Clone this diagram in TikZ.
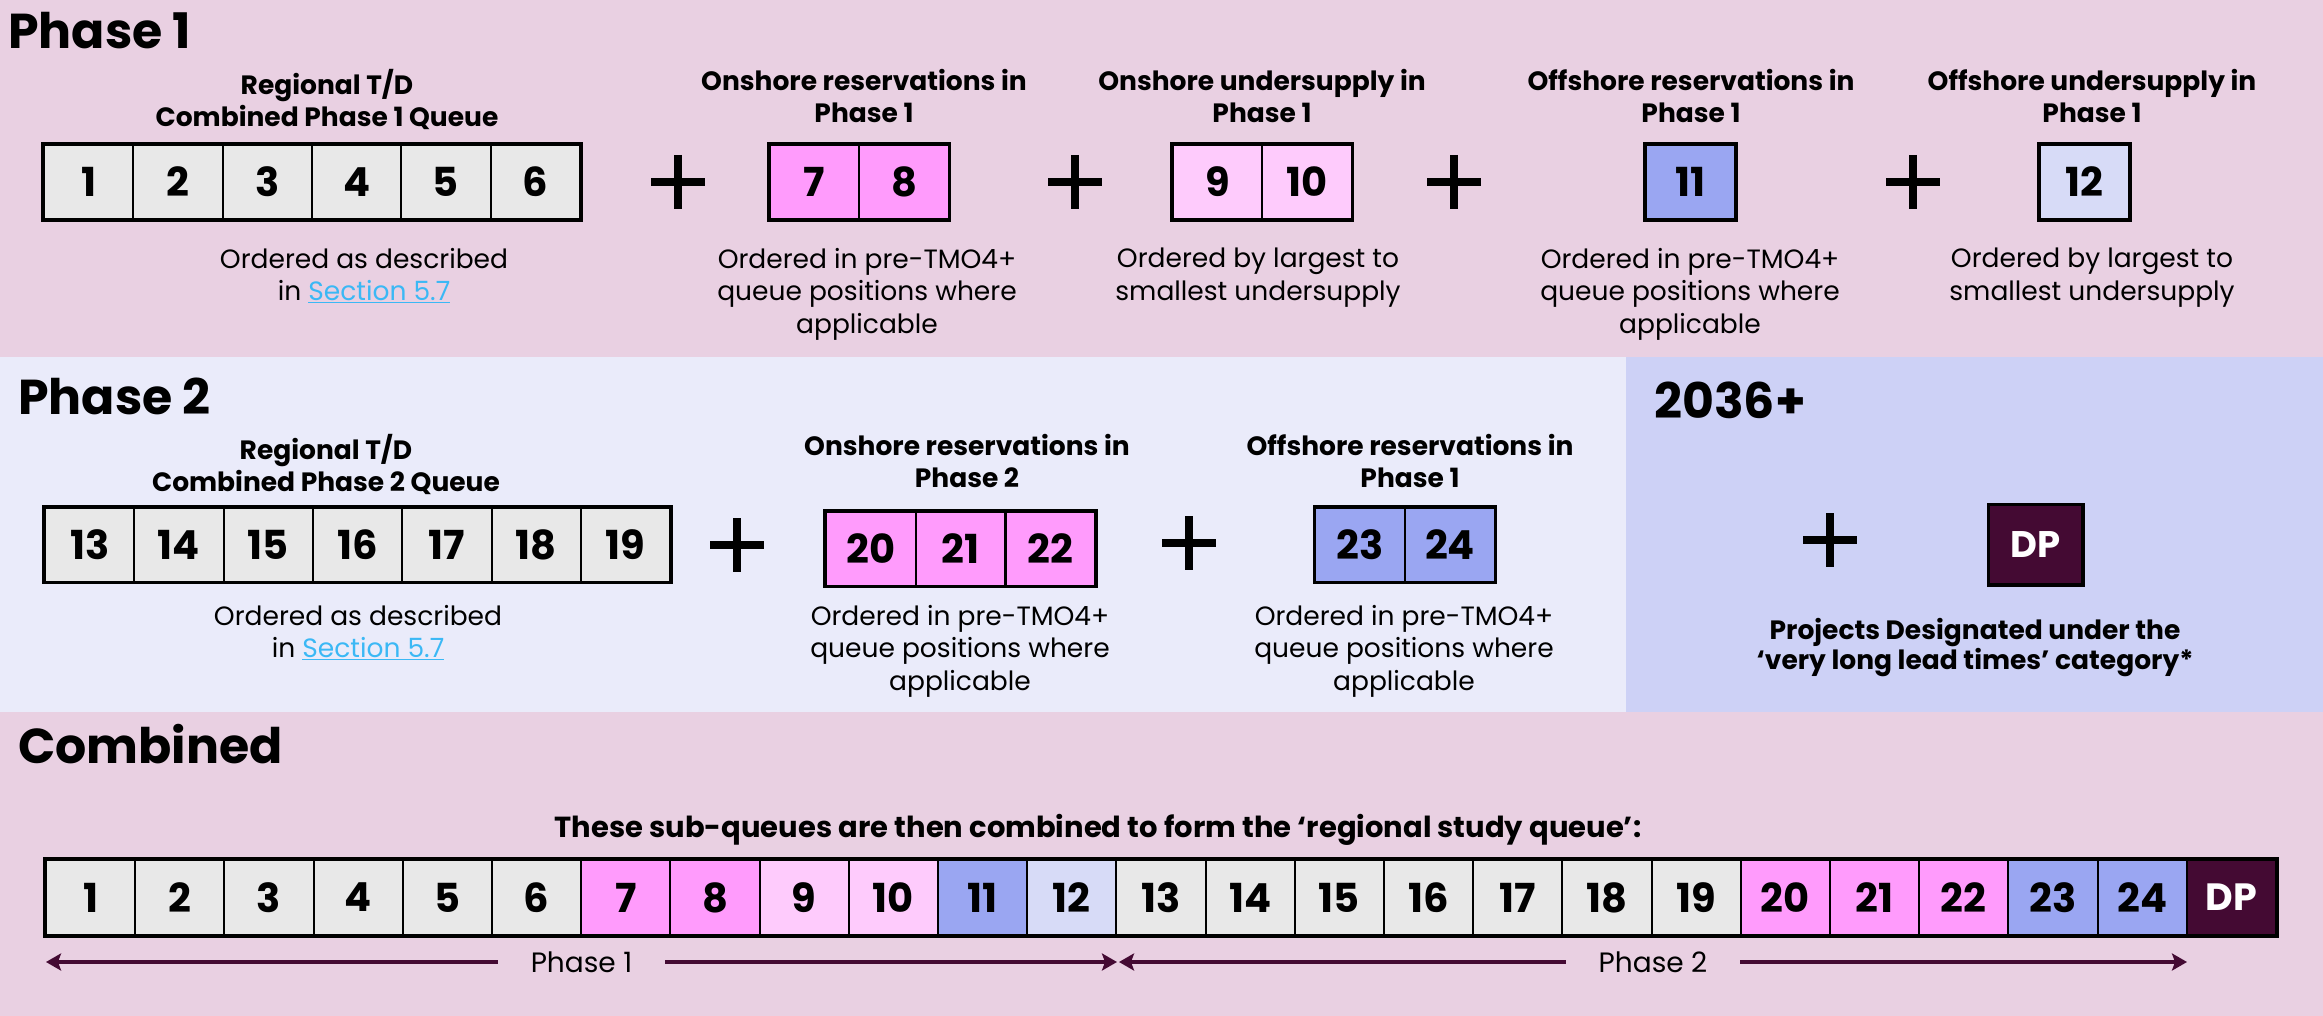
\documentclass[tikz,border=0pt]{standalone}
\usepackage{fontspec}
\setmainfont{Poppins}
\usetikzlibrary{arrows.meta}
\definecolor{bgpink}{HTML}{E9D0E2}
\definecolor{bgptwo}{HTML}{EAEBFA}
\definecolor{bgfut}{HTML}{CDD1F6}
\definecolor{cgray}{HTML}{E8E8E8}
\definecolor{cpink}{HTML}{FF9BFC}
\definecolor{clpink}{HTML}{FECBFC}
\definecolor{cblue}{HTML}{9AA6F2}
\definecolor{clblue}{HTML}{D7DBF7}
\definecolor{cdp}{HTML}{440A33}
\definecolor{clink}{HTML}{3BB8F5}
\newcommand{\lnk}[1]{{\color{clink}\underline{#1}}}
\begin{document}
\begin{tikzpicture}[x=1pt,y=-1pt,
  cell/.style={draw=black, line width=2pt, minimum width=89.3pt, minimum height=74pt, inner sep=0pt,
    font=\fontsize{40}{40}\selectfont\bfseries},
  dpcell/.style={cell, fill=cdp, text=white, font=\fontsize{37}{37}\selectfont\bfseries},
  frame/.style={draw=black, line width=3.5pt},
  head/.style={font=\fontsize{49}{49}\selectfont\bfseries, anchor=base west, inner sep=0pt},
  ttl/.style={font=\fontsize{26.5}{32.5}\selectfont\bfseries, align=center, anchor=north, inner sep=0pt},
  desc/.style={font=\fontsize{26.5}{32.5}\selectfont, align=center, anchor=north, inner sep=0pt},
  arr/.style={draw=cdp, line width=4pt, {Stealth[length=15pt,width=17pt,inset=3pt]}-{Stealth[length=15pt,width=17pt,inset=3pt]}},
  lab/.style={fill=bgpink, font=\fontsize{28}{28}\selectfont, inner xsep=33pt, inner ysep=4pt},
  plussign/.pic={\draw[line width=8pt] (-27,0) -- (27,0) (0,-27) -- (0,27);}
]
\useasboundingbox (0,0) rectangle (2323,1016);
% backgrounds
\fill[bgpink] (0,0) rectangle (2323,357);
\fill[bgptwo] (0,357) rectangle (1626,712);
\fill[bgfut] (1626,357) rectangle (2323,712);
\fill[bgpink] (0,712) rectangle (2323,1016);

% ---------------- Phase 1 ----------------
\node[head] (h1) at (8,49) {Phase 1};
\node[ttl] (t11) at (327,69) {Regional T/D\\Combined Phase 1 Queue};
\node[ttl] (t12) at (864,69) {Onshore reservations in\\Phase 1};
\node[ttl] (t13) at (1262,69) {Onshore undersupply in\\Phase 1};
\node[ttl] (t14) at (1691,69) {Offshore reservations in\\Phase 1};
\node[ttl] (t15) at (2092,69) {Offshore undersupply in\\Phase 1};

\foreach \n [count=\i] in {1,...,6}
  \node[cell, fill=cgray] (a\n) at ({44+89.3*(\i-0.5)},182) {\n};
\draw[frame] (a1.north west) rectangle (a6.south east);
\foreach \n [count=\i] in {7,8}
  \node[cell, fill=cpink] (a\n) at ({770+89.3*(\i-0.5)},182) {\n};
\draw[frame] (a7.north west) rectangle (a8.south east);
\foreach \n [count=\i] in {9,10}
  \node[cell, fill=clpink] (a\n) at ({1173+89.3*(\i-0.5)},182) {\n};
\draw[frame] (a9.north west) rectangle (a10.south east);
\node[cell, fill=cblue] (a11) at ({1646+44.65},182) {11};
\draw[frame] (a11.north west) rectangle (a11.south east);
\node[cell, fill=clblue] (a12) at ({2040+44.65},182) {12};
\draw[frame] (a12.north west) rectangle (a12.south east);

\pic at (678,182) {plussign};
\pic at (1075,182) {plussign};
\pic at (1454,182) {plussign};
\pic at (1913,182) {plussign};

\node[desc] (d11) at (364,248) {Ordered as described\\in \lnk{Section 5.7}};
\node[desc] (d12) at (867,248) {Ordered in pre-TMO4+\\queue positions where\\applicable};
\node[desc] (d13) at (1258,248) {Ordered by largest to\\smallest undersupply};
\node[desc] (d14) at (1690,248) {Ordered in pre-TMO4+\\queue positions where\\applicable};
\node[desc] (d15) at (2092,248) {Ordered by largest to\\smallest undersupply};

% ---------------- Phase 2 ----------------
\node[head] (h2) at (18,414) {Phase 2};
\node[ttl] (t21) at (326,434) {Regional T/D\\Combined Phase 2 Queue};
\node[ttl] (t22) at (967,434) {Onshore reservations in\\Phase 2};
\node[ttl] (t23) at (1410,434) {Offshore reservations in\\Phase 1};

\foreach \n [count=\i] in {13,...,19}
  \node[cell, fill=cgray] (b\n) at ({45+89.3*(\i-0.5)},544.5) {\n};
\draw[frame] (b13.north west) rectangle (b19.south east);
\foreach \n [count=\i] in {20,21,22}
  \node[cell, fill=cpink] (b\n) at ({826+89.7*(\i-0.5)},548.5) {\n};
\draw[frame] (b20.north west) rectangle (b22.south east);
\foreach \n [count=\i] in {23,24}
  \node[cell, fill=cblue] (b\n) at ({1315+90*(\i-0.5)},544.5) {\n};
\draw[frame] (b23.north west) rectangle (b24.south east);

\pic at (737,545) {plussign};
\pic at (1189,543) {plussign};

\node[desc] (d21) at (358,605) {Ordered as described\\in \lnk{Section 5.7}};
\node[desc] (d22) at (960,605) {Ordered in pre-TMO4+\\queue positions where\\applicable};
\node[desc] (d23) at (1404,605) {Ordered in pre-TMO4+\\queue positions where\\applicable};

% ---------------- 2036+ ----------------
\node[head] (h3) at (1654,418) {2036+};
\pic at (1830,540) {plussign};
\node[dpcell, minimum width=93pt, minimum height=79pt] (dp1) at (2035.5,544.5) {DP};
\draw[frame, line width=3pt] (dp1.north west) rectangle (dp1.south east);
\node[ttl, font=\fontsize{26.5}{30.5}\selectfont\bfseries] (t31) at (1975,618) {Projects Designated under the\\‘very long lead times’ category*};

% ---------------- Combined ----------------
\node[head] (h4) at (18,763) {Combined};
\node[font=\fontsize{29}{29}\selectfont\bfseries, anchor=base, inner sep=0pt] (t41) at (1098,837)
  {These sub-queues are then combined to form the ‘regional study queue’:};

\foreach \n/\c [count=\i] in {1/cgray,2/cgray,3/cgray,4/cgray,5/cgray,6/cgray,7/cpink,8/cpink,9/clpink,10/clpink,11/cblue,12/clblue,13/cgray,14/cgray,15/cgray,16/cgray,17/cgray,18/cgray,19/cgray,20/cpink,21/cpink,22/cpink,23/cblue,24/cblue}
  \node[cell, fill=\c, minimum width=89.2pt, minimum height=75pt] (c\n) at ({46+89.2*(\i-0.5)},897.5) {\n};
\node[dpcell, minimum width=89.2pt, minimum height=75pt, font=\fontsize{38}{38}\selectfont\bfseries] (cDP) at ({46+89.2*24.5},897.5) {DP};
\draw[frame] (c1.north west) rectangle (cDP.south east);

\coordinate (p1l) at (46,962);
\coordinate (p1r) at (1117,962);
\coordinate (p2l) at (1119,962);
\coordinate (p2r) at (2187,962);
\draw[arr] (p1l) -- node[lab] (l1) {Phase 1} (p1r);
\draw[arr] (p2l) -- node[lab] (l2) {Phase 2} (p2r);
\end{tikzpicture}
\end{document}
